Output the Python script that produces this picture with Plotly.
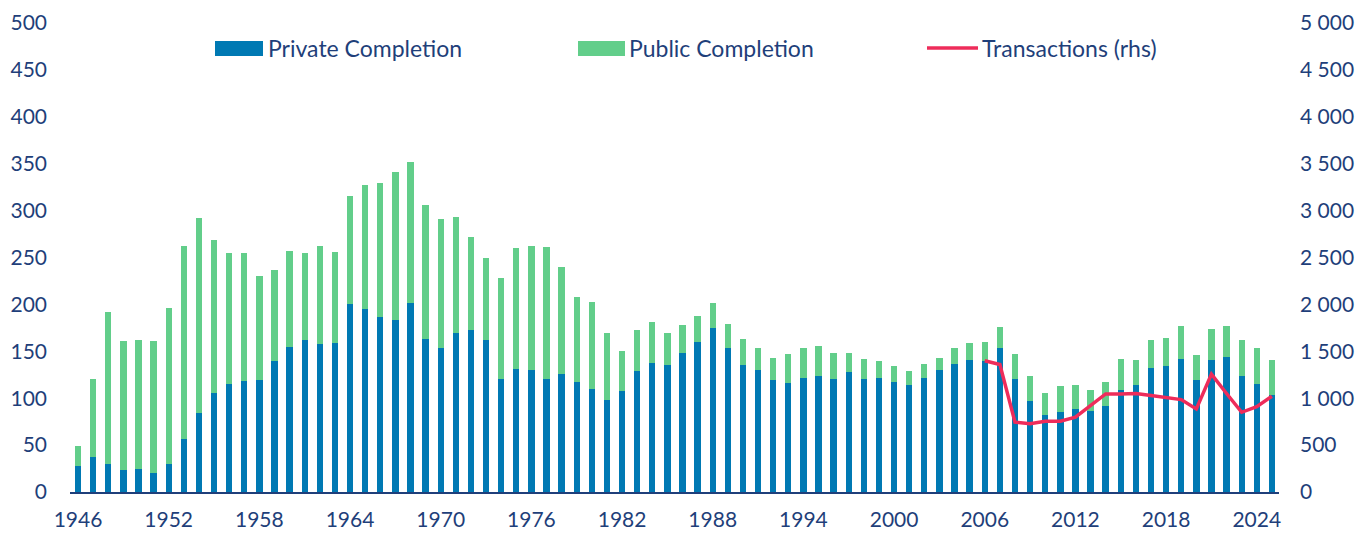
import plotly.graph_objects as go

years = list(range(1946, 2026))
private = [28, 37, 30, 23, 24, 20, 30, 57, 84, 106, 115, 118, 119, 140, 155, 162, 158, 159,
           200, 195, 187, 183, 202, 163, 153, 170, 173, 162, 120, 131, 130, 120, 126, 117,
           110, 98, 108, 129, 138, 135, 148, 160, 175, 153, 135, 130, 119, 116, 122, 124,
           120, 128, 121, 122, 117, 114, 122, 130, 136, 141, 140, 153, 120, 97, 82, 85,
           88, 86, 92, 109, 114, 132, 134, 142, 119, 141, 144, 124, 115, 103]
public = [21, 83, 162, 138, 138, 141, 166, 205, 208, 163, 140, 137, 111, 97, 102, 93, 104, 97,
          116, 132, 142, 158, 150, 143, 138, 123, 99, 87, 108, 129, 132, 141, 114, 91,
          93, 72, 42, 44, 43, 34, 30, 28, 27, 26, 28, 24, 24, 31, 32, 32,
          28, 20, 21, 18, 17, 15, 14, 13, 17, 18, 20, 23, 27, 27, 24, 28,
          26, 23, 25, 33, 27, 30, 30, 35, 27, 33, 33, 38, 38, 38]
tx_years = list(range(2006, 2026))
transactions = [1400, 1360, 745, 727, 755, 755, 798, 920, 1045, 1045, 1050, 1028, 1003, 985,
                886, 1257, 1050, 850, 910, 1020]

x_ticks = list(range(1946, 2025, 6))
left_ticks = list(range(0, 501, 50))
right_ticks = list(range(0, 5001, 500))
right_labels = ["0", "500", "1 000", "1 500", "2 000", "2 500", "3 000", "3 500", "4 000", "4 500", "5 000"]

legend_names = ["Private Completion", "Public Completion", "Transactions (rhs)"]

C_PRIV = "#0079B3"
C_PUB = "#62CE8A"
C_LINE = "#EE2C5A"
C_TEXT = "#1F3F7A"
FONT = "Lato"
TICK_SIZE = 21
LEG_SIZE = 23

# plot area in page pixels (page has an 8px body offset)
TOP, BOTTOM, LEFT, RIGHT = 23, 492, 70, 1279

fig = go.Figure()
fig.add_trace(go.Bar(x=years, y=private, name=legend_names[0], marker=dict(color=C_PRIV, line=dict(width=0)),
                     width=0.42, yaxis="y"))
fig.add_trace(go.Bar(x=years, y=public, name=legend_names[1], marker=dict(color=C_PUB, line=dict(width=0)),
                     width=0.42, yaxis="y"))
fig.add_trace(go.Scatter(x=tx_years, y=transactions, name=legend_names[2], mode="lines",
                         line=dict(color=C_LINE, width=3.5), yaxis="y2"))

fig.update_layout(
    barmode="stack",
    width=1370, height=538,
    margin=dict(l=LEFT - 8, r=1370 - (RIGHT - 8), t=TOP - 8, b=538 - (BOTTOM - 8), autoexpand=False),
    plot_bgcolor="white", paper_bgcolor="white",
    showlegend=False,
    font=dict(family=FONT, size=TICK_SIZE, color=C_TEXT),
    xaxis=dict(range=[1945.47, 2025.47], tickmode="array", tickvals=x_ticks,
               ticktext=[str(v) for v in x_ticks], showgrid=False, zeroline=False,
               showline=True, linecolor=C_TEXT, linewidth=2, ticks="", ticklabelstandoff=8,
               automargin=False, ticklabeloverflow="allow", tickfont=dict(size=TICK_SIZE, color=C_TEXT)),
    yaxis=dict(range=[0, 500], tickmode="array", tickvals=left_ticks, showgrid=False,
               zeroline=False, showline=False, ticks="", ticklabelstandoff=22,
               automargin=False, ticklabeloverflow="allow", tickfont=dict(size=TICK_SIZE, color=C_TEXT)),
    yaxis2=dict(range=[0, 5000], overlaying="y", side="right", tickmode="array",
                tickvals=right_ticks, ticktext=right_labels, showgrid=False, zeroline=False,
                showline=False, ticks="", ticklabelstandoff=20, automargin=False,
                ticklabeloverflow="allow", tickfont=dict(size=TICK_SIZE, color=C_TEXT)),
)

# manual legend (positions given in reference page pixels, mapped to the plot area)
pw, ph = float(RIGHT - LEFT), float(BOTTOM - TOP)
def px(x):
    return (x - LEFT) / pw
def py(y):
    return (BOTTOM - y) / ph

ly = 48
fig.add_shape(type="rect", xref="paper", yref="paper", x0=px(215), x1=px(263), y0=py(56), y1=py(41),
              fillcolor=C_PRIV, line=dict(width=0))
fig.add_shape(type="rect", xref="paper", yref="paper", x0=px(578), x1=px(625), y0=py(56), y1=py(41),
              fillcolor=C_PUB, line=dict(width=0))
fig.add_shape(type="line", xref="paper", yref="paper", x0=px(927), x1=px(978), y0=py(48), y1=py(48),
              line=dict(color=C_LINE, width=3.5))
for xs, name in [(266, legend_names[0]), (627, legend_names[1]), (980, legend_names[2])]:
    fig.add_annotation(xref="paper", yref="paper", x=px(xs), y=py(ly), text=name, showarrow=False,
                       xanchor="left", yanchor="middle", font=dict(family=FONT, size=LEG_SIZE, color=C_TEXT))

fig.write_html("out.html")
